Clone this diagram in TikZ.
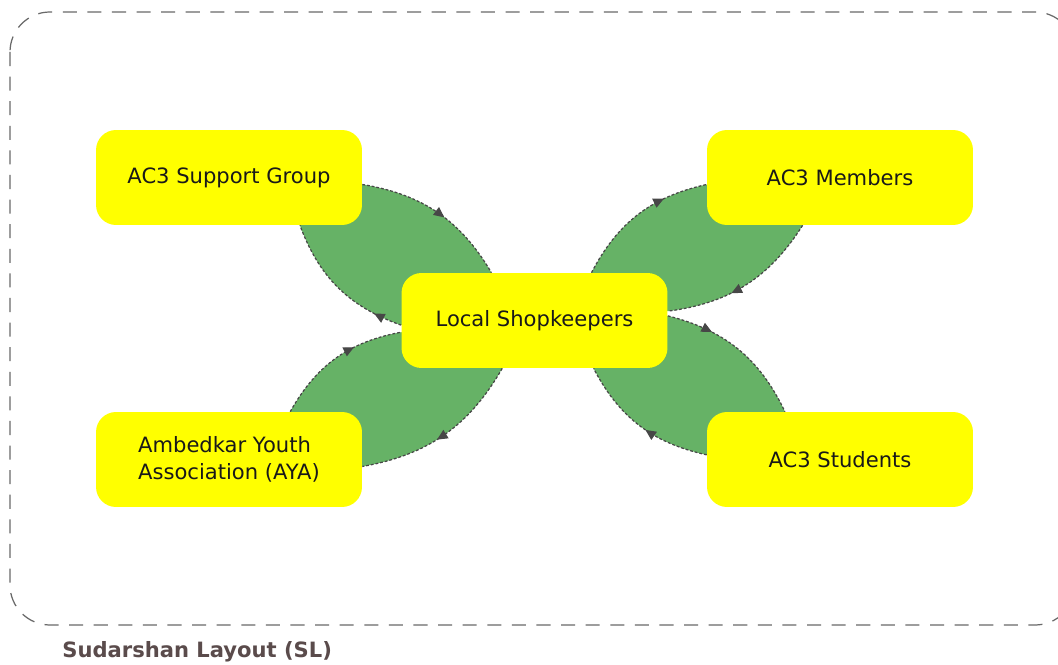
\documentclass[tikz,border=0pt]{standalone}
\usepackage{fontspec}
\setmainfont{DejaVu Sans}
\usetikzlibrary{arrows.meta,decorations.markings,backgrounds}
\definecolor{boxyellow}{RGB}{255,255,0}
\definecolor{lensgreen}{RGB}{102,178,102}
\definecolor{framegray}{RGB}{105,105,105}
\definecolor{labelbrown}{RGB}{90,75,75}

\begin{document}
\begin{tikzpicture}[x = 0.02cm, y = -0.02cm,
    group/.style = {fill = boxyellow, rounded corners = 0.4cm, minimum width = 5.32cm, minimum height = 1.9cm, font = \fontsize{12}{15}\selectfont, text = black!90},
    flow/.style = {draw = black!72, line width = 0.7pt, dash pattern = on 1.6pt off 1.1pt},
    tip at/.style = {postaction = {decorate}, decoration = {markings, mark = at position #1 with {\arrow{Triangle[length = 6pt, width = 5.5pt]}}}}]
        \useasboundingbox (0, 0) rectangle (1058, 665);
        \clip (0, 0) rectangle (1058, 665);
        
        % outer frame
        \draw[framegray, line width = 0.7pt, dash pattern = on 8pt off 6pt, rounded corners = 0.8cm] (10, 12) rectangle (1075, 625);
        \node[anchor = west, inner sep = 0, text = labelbrown, font = \bfseries\fontsize{12}{14}\selectfont] (title) at (62, 652) {Sudarshan Layout (SL)};
        
        % groups
        \node[group] (sup) at (229, 177.5) {AC3 Support Group};
        \node[group] (mem) at (840, 177.5) {AC3 Members};
        \node[group] (loc) at (534.5, 320.5) {Local Shopkeepers};
        \node[group, align = left] (aya) at (229, 459.5) {Ambedkar Youth\\Association (AYA)};
        \node[group] (stu) at (840, 459.5) {AC3 Students};
        
        \begin{pgfonlayer}{background}
        \fill[white] (0, 0) rectangle (1058, 665);
        
        % lenses
        \fill[lensgreen] (sup.-3) to[bend left = 25] (loc.132) -- (loc.182) to[bend left = 25] (sup.-34) -- cycle;
        \fill[lensgreen] (loc.40) to[bend left = 25] (mem.183) -- (mem.232) to[bend left = 25] (loc.4) -- cycle;
        \fill[lensgreen] (aya.38) to[bend left = 25] (loc.185) -- (loc.236) to[bend left = 25] (aya.-3) -- cycle;
        \fill[lensgreen] (loc.2) to[bend left = 25] (stu.139) -- (stu.178) to[bend left = 25] (loc.-39) -- cycle;
        
        % flows
        \draw[flow, tip at = 0.55] (sup.-3) to[bend left = 25] (loc.132);
        \draw[flow, tip at = 0.2] (loc.182) to[bend left = 25] (sup.-34);
        \draw[flow, tip at = 0.7] (loc.40) to[bend left = 25] (mem.183);
        \draw[flow, tip at = 0.6] (mem.232) to[bend left = 25] (loc.4);
        \draw[flow, tip at = 0.65] (aya.38) to[bend left = 25] (loc.185);
        \draw[flow, tip at = 0.55] (loc.236) to[bend left = 25] (aya.-3);
        \draw[flow, tip at = 0.3] (loc.2) to[bend left = 25] (stu.139);
        \draw[flow, tip at = 0.45] (stu.178) to[bend left = 25] (loc.-39);
        \end{pgfonlayer}
      \end{tikzpicture}
\end{document}
